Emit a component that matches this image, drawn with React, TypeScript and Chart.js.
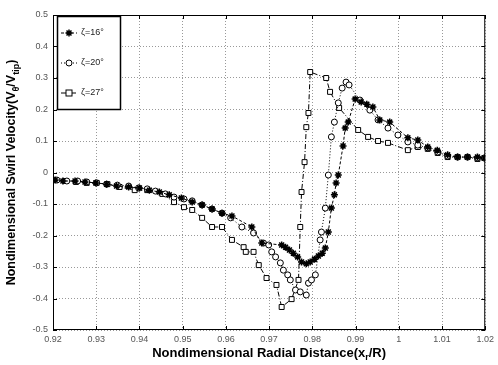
import React, { useEffect, useRef } from "react";
import { Chart, registerables } from "chart.js";

Chart.register(...registerables);

// zeta = 16 deg (star markers)
const s16X = [0.9205, 0.9223, 0.9251, 0.9274, 0.9299, 0.9324, 0.9347, 0.9375, 0.94, 0.9423, 0.9446, 0.9469, 0.9497, 0.9522, 0.9545, 0.9568, 0.9591, 0.9614, 0.966, 0.9683, 0.9729, 0.9738, 0.9747, 0.9756, 0.9766, 0.9775, 0.9786, 0.9795, 0.9805, 0.9814, 0.9823, 0.983, 0.9837, 0.9844, 0.9851, 0.9855, 0.986, 0.9871, 0.9876, 0.9883, 0.9899, 0.9913, 0.9926, 0.994, 0.9956, 0.9979, 1.0021, 1.0044, 1.0067, 1.0089, 1.0113, 1.0136, 1.0159, 1.0182, 1.0198];
const s16Y = [-0.024, -0.027, -0.027, -0.03, -0.033, -0.037, -0.043, -0.046, -0.049, -0.056, -0.062, -0.071, -0.081, -0.094, -0.103, -0.116, -0.129, -0.138, -0.173, -0.224, -0.23, -0.237, -0.246, -0.256, -0.268, -0.284, -0.29, -0.284, -0.275, -0.265, -0.256, -0.24, -0.189, -0.113, -0.071, -0.033, -0.008, 0.084, 0.141, 0.16, 0.233, 0.224, 0.217, 0.208, 0.167, 0.16, 0.11, 0.103, 0.081, 0.071, 0.056, 0.049, 0.049, 0.049, 0.046];

// zeta = 20 deg (circle markers)
const s20X = [0.9209, 0.9232, 0.9257, 0.9278, 0.9301, 0.9324, 0.9349, 0.9375, 0.9398, 0.9418, 0.9437, 0.946, 0.948, 0.9503, 0.9522, 0.9545, 0.9568, 0.9591, 0.9611, 0.9637, 0.9664, 0.9687, 0.9699, 0.9706, 0.9715, 0.9726, 0.9733, 0.9743, 0.9749, 0.9761, 0.9772, 0.9786, 0.9791, 0.9798, 0.9807, 0.9818, 0.9821, 0.983, 0.9837, 0.9844, 0.9851, 0.986, 0.9869, 0.9878, 0.9885, 0.991, 0.9933, 0.9952, 0.9975, 0.9998, 1.0021, 1.0044, 1.0067, 1.009, 1.0113, 1.0136, 1.0159, 1.0182, 1.0198];
const s20Y = [-0.024, -0.027, -0.027, -0.03, -0.033, -0.037, -0.04, -0.043, -0.049, -0.052, -0.059, -0.068, -0.078, -0.084, -0.09, -0.103, -0.116, -0.129, -0.144, -0.173, -0.192, -0.224, -0.23, -0.252, -0.268, -0.287, -0.31, -0.325, -0.341, -0.373, -0.379, -0.389, -0.351, -0.341, -0.325, -0.214, -0.189, -0.113, -0.008, 0.113, 0.16, 0.221, 0.268, 0.287, 0.278, 0.23, 0.198, 0.167, 0.141, 0.119, 0.097, 0.087, 0.078, 0.065, 0.052, 0.049, 0.049, 0.046, 0.046];

// zeta = 27 deg (square markers)
const s27X = [0.9205, 0.9228, 0.9253, 0.9278, 0.9301, 0.9326, 0.9354, 0.9389, 0.9418, 0.9453, 0.948, 0.9503, 0.9522, 0.9545, 0.9568, 0.9591, 0.9614, 0.9641, 0.9646, 0.9664, 0.9676, 0.9694, 0.9717, 0.9729, 0.9752, 0.9768, 0.9772, 0.9775, 0.9782, 0.9786, 0.9791, 0.9795, 0.9832, 0.9841, 0.9862, 0.9906, 0.9929, 0.9952, 0.9975, 1.0021, 1.0044, 1.0067, 1.009, 1.0113, 1.0136, 1.0159, 1.0182, 1.0198];
const s27Y = [-0.024, -0.027, -0.03, -0.033, -0.033, -0.037, -0.046, -0.056, -0.056, -0.068, -0.094, -0.11, -0.119, -0.144, -0.173, -0.173, -0.214, -0.237, -0.252, -0.252, -0.294, -0.335, -0.357, -0.427, -0.402, -0.341, -0.173, -0.062, 0.033, 0.144, 0.189, 0.319, 0.3, 0.256, 0.205, 0.135, 0.113, 0.1, 0.094, 0.071, 0.081, 0.075, 0.062, 0.049, 0.049, 0.049, 0.043, 0.046];

const seriesLabels = ["ζ=16°", "ζ=20°", "ζ=27°"];
const xTickValues = [0.92, 0.93, 0.94, 0.95, 0.96, 0.97, 0.98, 0.99, 1.0, 1.01, 1.02];
const yTickValues = [-0.5, -0.4, -0.3, -0.2, -0.1, 0, 0.1, 0.2, 0.3, 0.4, 0.5];

const FONT = "'Liberation Sans', Arial, sans-serif";

const pts = (xs: number[], ys: number[]) => xs.map((x, i) => ({ x, y: ys[i] }));

type Seg = { t: string; sub?: boolean };

function richWidth(ctx: CanvasRenderingContext2D, segs: Seg[], size: number) {
  let w = 0;
  for (const s of segs) {
    ctx.font = `bold ${s.sub ? Math.round(size * 0.7) : size}px ${FONT}`;
    w += ctx.measureText(s.t).width;
  }
  return w;
}

function drawRich(ctx: CanvasRenderingContext2D, segs: Seg[], size: number) {
  const w = richWidth(ctx, segs, size);
  let x = -w / 2;
  ctx.textBaseline = "middle";
  ctx.textAlign = "left";
  for (const s of segs) {
    const fs = s.sub ? Math.round(size * 0.7) : size;
    ctx.font = `bold ${fs}px ${FONT}`;
    ctx.fillText(s.t, x, s.sub ? size * 0.35 : 0);
    x += ctx.measureText(s.t).width;
  }
}

function drawMarker(ctx: CanvasRenderingContext2D, kind: string, x: number, y: number) {
  ctx.save();
  ctx.setLineDash([]);
  ctx.strokeStyle = "#000";
  ctx.lineWidth = 1;
  if (kind === "star") {
    ctx.lineWidth = 1.5;
    const r = 3.5;
    ctx.beginPath();
    for (let k = 0; k < 4; k++) {
      const a = (k * Math.PI) / 4;
      ctx.moveTo(x - r * Math.cos(a), y - r * Math.sin(a));
      ctx.lineTo(x + r * Math.cos(a), y + r * Math.sin(a));
    }
    ctx.stroke();
  } else if (kind === "circle") {
    ctx.fillStyle = "#fff";
    ctx.beginPath();
    ctx.arc(x, y, 3, 0, Math.PI * 2);
    ctx.fill();
    ctx.stroke();
  } else {
    ctx.fillStyle = "#fff";
    ctx.fillRect(x - 3, y - 3, 6, 6);
    ctx.strokeRect(x - 3, y - 3, 6, 6);
  }
  ctx.restore();
}

const decorPlugin = {
  id: "decor",
  afterDraw(chart: any) {
    const { ctx, chartArea: a, scales } = chart;
    ctx.save();
    // box
    ctx.strokeStyle = "#000";
    ctx.lineWidth = 1;
    ctx.setLineDash([]);
    ctx.strokeRect(a.left + 0.5, a.top + 0.5, a.right - a.left - 1, a.bottom - a.top - 1);
    // inward ticks
    ctx.beginPath();
    for (const v of xTickValues) {
      const px = Math.round(scales.x.getPixelForValue(v)) + 0.5;
      ctx.moveTo(px, a.bottom);
      ctx.lineTo(px, a.bottom - 4);
      ctx.moveTo(px, a.top);
      ctx.lineTo(px, a.top + 4);
    }
    for (const v of yTickValues) {
      const py = Math.round(scales.y.getPixelForValue(v)) + 0.5;
      ctx.moveTo(a.left, py);
      ctx.lineTo(a.left + 4, py);
      ctx.moveTo(a.right, py);
      ctx.lineTo(a.right - 4, py);
    }
    ctx.stroke();

    // legend
    const lx = a.left + 4;
    const ly = a.top + 1;
    const lw = 63;
    const lh = 93;
    ctx.fillStyle = "#fff";
    ctx.fillRect(lx, ly, lw, lh);
    ctx.lineWidth = 1.5;
    ctx.strokeRect(lx + 0.5, ly + 0.5, lw, lh);
    const kinds = ["star", "circle", "rect"];
    const dashes = [[3, 2], [1, 2], [5, 2, 1, 2]];
    kinds.forEach((k, i) => {
      const yy = ly + 17 + i * 30;
      ctx.save();
      ctx.strokeStyle = "#000";
      ctx.lineWidth = 1;
      ctx.setLineDash(dashes[i]);
      ctx.beginPath();
      ctx.moveTo(lx + 4, yy);
      ctx.lineTo(lx + 20, yy);
      ctx.stroke();
      ctx.restore();
      drawMarker(ctx, k, lx + 12, yy);
      ctx.fillStyle = "#222";
      ctx.font = `9px ${FONT}`;
      ctx.textAlign = "left";
      ctx.textBaseline = "middle";
      ctx.fillText(seriesLabels[i], lx + 24, yy);
    });

    // axis titles
    ctx.fillStyle = "#000";
    ctx.save();
    ctx.translate((a.left + a.right) / 2, 353);
    drawRich(
      ctx,
      [
        { t: "Nondimensional Radial Distance(x" },
        { t: "r", sub: true },
        { t: "/R)" },
      ],
      13
    );
    ctx.restore();
    ctx.save();
    ctx.translate(12, (a.top + a.bottom) / 2);
    ctx.rotate(-Math.PI / 2);
    drawRich(
      ctx,
      [
        { t: "Nondimensional Swirl Velocity(V" },
        { t: "θ", sub: true },
        { t: "/V" },
        { t: "tip", sub: true },
        { t: ")" },
      ],
      12.5
    );
    ctx.restore();
    ctx.restore();
  },
};

export default function App() {
  const ref = useRef<HTMLCanvasElement | null>(null);

  useEffect(() => {
    if (!ref.current) return;
    const common = {
      borderColor: "#000",
      borderWidth: 1,
      pointBorderColor: "#000",
      pointBackgroundColor: "#fff",
      showLine: true,
      tension: 0,
    };
    const chart = new Chart(ref.current, {
      type: "scatter",
      data: {
        datasets: [
          {
            ...common,
            label: seriesLabels[0],
            data: pts(s16X, s16Y),
            borderDash: [3, 2],
            pointStyle: "star",
            pointRadius: 3.5,
            pointBorderWidth: 1.5,
          },
          {
            ...common,
            label: seriesLabels[1],
            data: pts(s20X, s20Y),
            borderDash: [1, 2],
            pointStyle: "circle",
            pointRadius: 3,
            pointBorderWidth: 1,
          },
          {
            ...common,
            label: seriesLabels[2],
            data: pts(s27X, s27Y),
            borderDash: [5, 2, 1, 2],
            pointStyle: "rect",
            pointRadius: 3.5,
            pointBorderWidth: 1,
          },
        ],
      },
      options: {
        responsive: false,
        animation: false,
        layout: { padding: { top: 15, right: 10, left: 0, bottom: 0 } },
        plugins: { legend: { display: false }, tooltip: { enabled: false } },
        scales: {
          x: {
            type: "linear",
            min: 0.92,
            max: 1.02,
            afterBuildTicks: (s: any) => {
              s.ticks = xTickValues.map((v) => ({ value: v }));
            },
            afterFit: (s: any) => {
              s.height = 35;
            },
            ticks: {
              color: "#555",
              font: { size: 9, family: FONT },
              padding: 4,
              maxRotation: 0,
              callback: (v: any) => String(Math.round(Number(v) * 100) / 100),
            },
            grid: { color: "#999", drawTicks: false, lineWidth: 1 },
            border: { display: false, dash: [1, 2] },
          },
          y: {
            type: "linear",
            min: -0.5,
            max: 0.5,
            afterBuildTicks: (s: any) => {
              s.ticks = yTickValues.map((v) => ({ value: v }));
            },
            afterFit: (s: any) => {
              s.width = 53;
            },
            ticks: {
              color: "#555",
              font: { size: 9, family: FONT },
              padding: 5,
              callback: (v: any) => String(Math.round(Number(v) * 10) / 10),
            },
            grid: { color: "#999", drawTicks: false, lineWidth: 1 },
            border: { display: false, dash: [1, 2] },
          },
        },
      },
      plugins: [decorPlugin],
    } as any);
    return () => chart.destroy();
  }, []);

  return (
    <div style={{ position: "fixed", left: 0, top: 0, width: 498, height: 365, background: "#fff" }}>
      <canvas ref={ref} width={498} height={365} />
    </div>
  );
}
